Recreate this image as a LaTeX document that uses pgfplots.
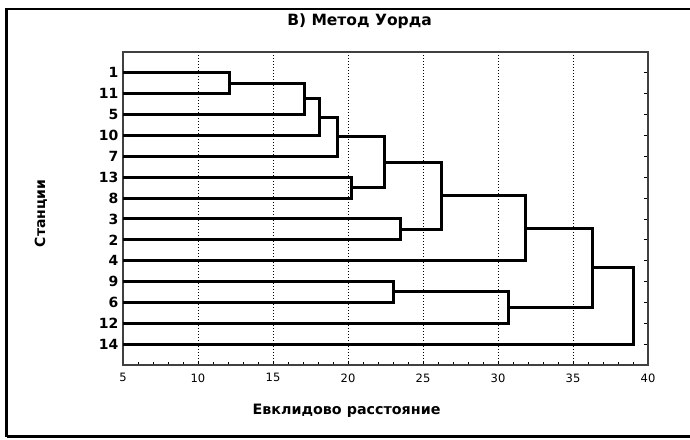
\documentclass[border=0pt]{standalone}
\usepackage{fontspec}
\setmainfont{DejaVu Sans}
\usepackage{pgfplots}
\pgfplotsset{compat=1.18}
\tikzset{dend/.style={black, solid, line width=3pt, line join=miter, mark=none}}
\begin{document}
\begin{tikzpicture}[x=1pt,y=1pt]
\useasboundingbox (0,0) rectangle (690,439);
\draw[line width=2.6pt] (6.5,2.5) -- (6.5,430) -- (700,430);
\draw[line width=2.6pt] (6.5,2.5) -- (700,2.5);
\begin{axis}[
  at={(123pt,74pt)}, anchor=south west,
  width=525pt, height=313pt, scale only axis,
  xmin=5, xmax=40, ymin=0, ymax=15, y dir=reverse,
  xtick={5,10,...,40}, minor x tick num=4,
  ytick={1,...,14},
  yticklabels={1,11,5,10,7,13,8,3,2,4,9,6,12,14},
  xtick pos=bottom, tick align=inside,
  ytick pos=both,
  major tick length=4pt, minor tick length=3pt,
  every tick/.style={black, line width=0.8pt},
  axis line style={black!75, line width=1.3pt},
  xmajorgrids, major x grid style={black, line width=0.9pt, dash pattern=on 1pt off 2pt},
  /pgf/number format/assume math mode=true,
  xticklabel style={font=\fontsize{11.5}{11.5}\selectfont, yshift=-5pt},
  yticklabel style={font=\bfseries\fontsize{14}{14}\selectfont, xshift=-1pt},
  every axis title/.style={at={(rel axis cs:0.5,1)}, anchor=center, xshift=-26pt, yshift=31pt, font=\bfseries\fontsize{15.5}{15.5}\selectfont},
  title={В) Метод Уорда},
  every axis x label/.style={at={(rel axis cs:0.5,0)}, anchor=center, xshift=-39pt, yshift=-46pt, font=\bfseries\fontsize{14.3}{14.3}\selectfont},
  xlabel={Евклидово расстояние},
  every axis y label/.style={at={(rel axis cs:0,0.5)}, anchor=center, xshift=-82pt, yshift=-5pt, rotate=90, font=\bfseries\fontsize{14}{14}\selectfont},
  ylabel={Станции},
]
\addplot[dend] coordinates {(5,1) (12.13,1) (12.13,2) (5,2)};
\addplot[dend] coordinates {(12.13,1.5) (17.07,1.5) (17.07,3) (5,3)};
\addplot[dend] coordinates {(17.07,2.25) (18.07,2.25) (18.07,4) (5,4)};
\addplot[dend] coordinates {(18.07,3.125) (19.33,3.125) (19.33,5) (5,5)};
\addplot[dend] coordinates {(5,6) (20.25,6) (20.25,7) (5,7)};
\addplot[dend] coordinates {(19.33,4.0625) (22.4,4.0625) (22.4,6.5) (20.25,6.5)};
\addplot[dend] coordinates {(5,8) (23.47,8) (23.47,9) (5,9)};
\addplot[dend] coordinates {(22.4,5.28125) (26.2,5.28125) (26.2,8.5) (23.47,8.5)};
\addplot[dend] coordinates {(26.2,6.890625) (31.85,6.890625) (31.85,10) (5,10)};
\addplot[dend] coordinates {(5,11) (23.0,11) (23.0,12) (5,12)};
\addplot[dend] coordinates {(23.0,11.5) (30.67,11.5) (30.67,13) (5,13)};
\addplot[dend] coordinates {(31.85,8.4453) (36.33,8.4453) (36.33,12.25) (30.67,12.25)};
\addplot[dend] coordinates {(36.33,10.3477) (39.0,10.3477) (39.0,14) (5,14)};
\end{axis}
\end{tikzpicture}
\end{document}
